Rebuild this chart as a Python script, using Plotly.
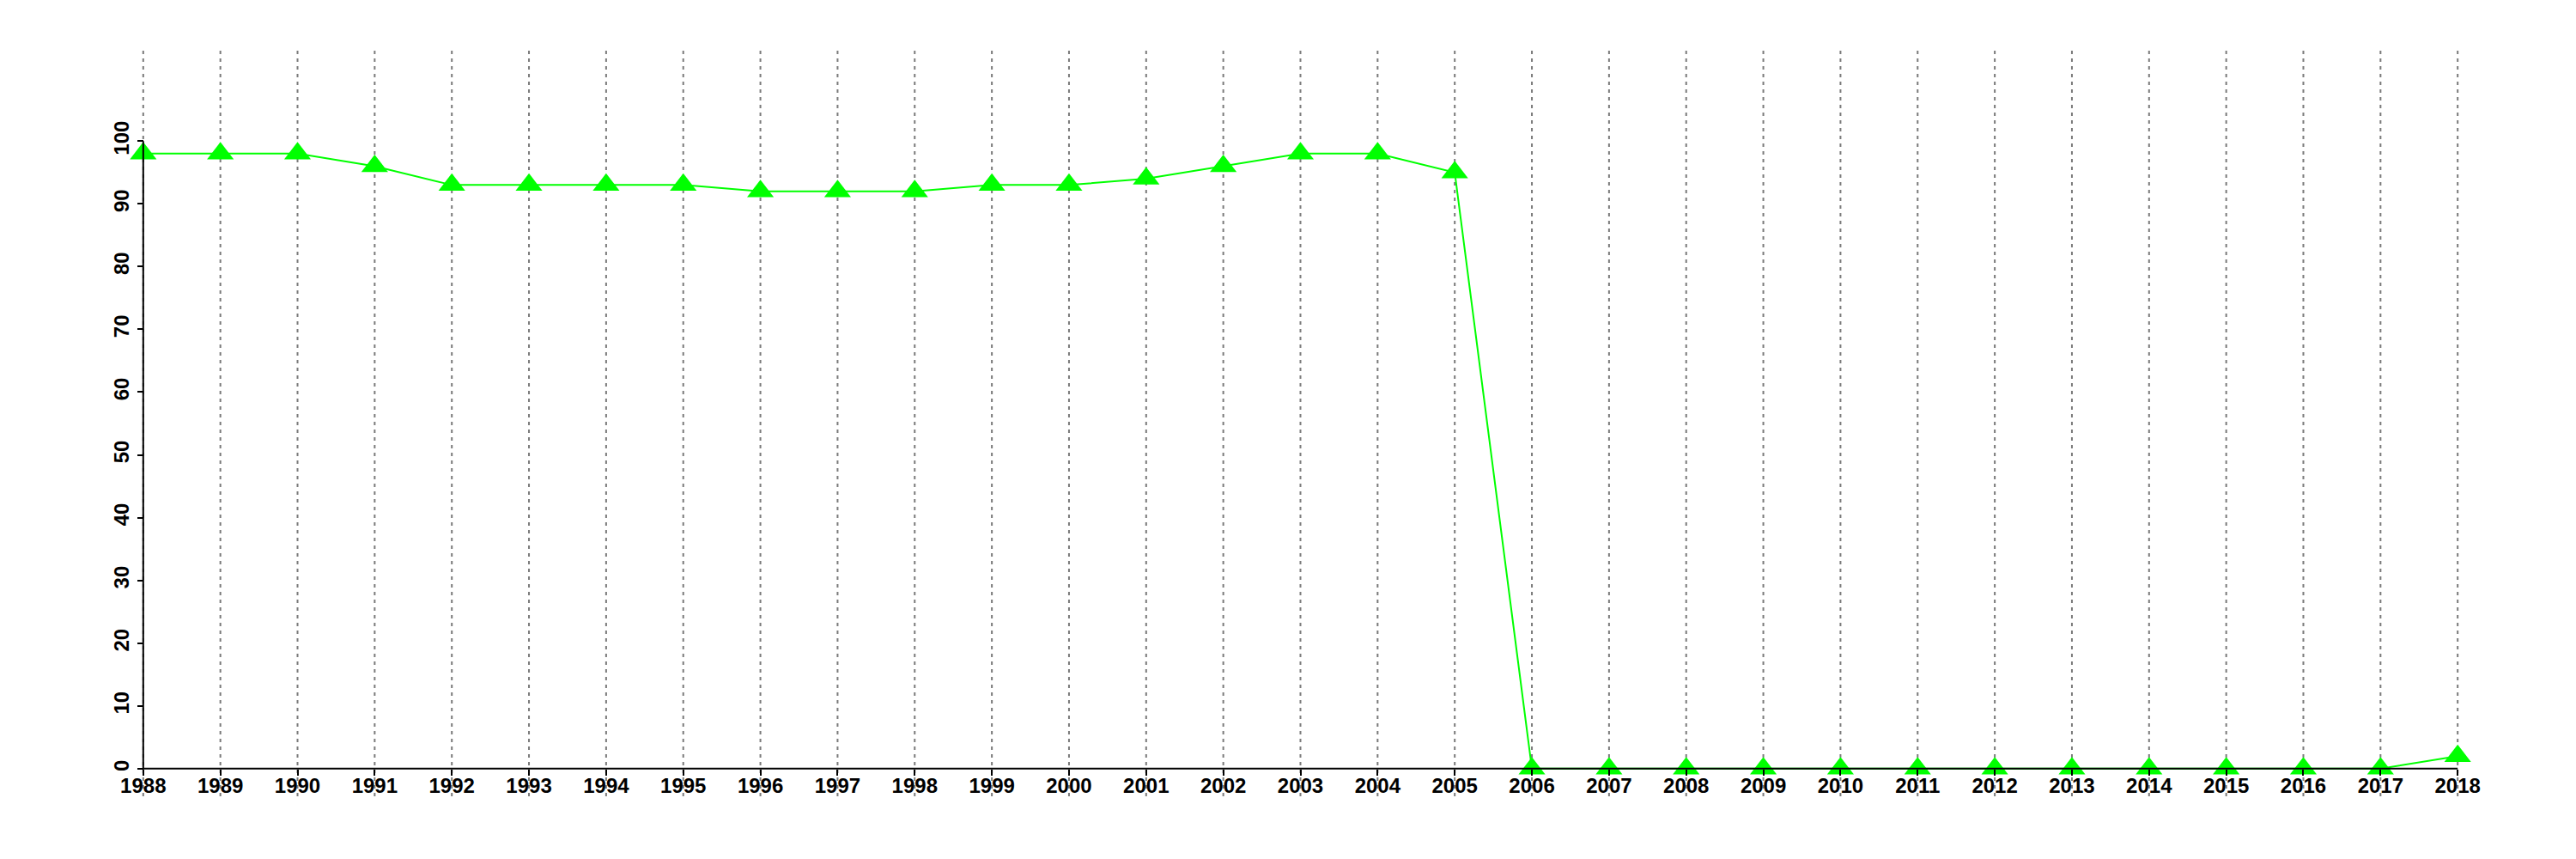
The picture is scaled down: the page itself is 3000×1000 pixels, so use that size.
import plotly.graph_objects as go

years = list(range(1988, 2019))
values = [98, 98, 98, 96, 93, 93, 93, 93, 92, 92, 92, 93, 93, 94, 96, 98, 98, 95,
          0, 0, 0, 0, 0, 0, 0, 0, 0, 0, 0, 0, 2]
y_ticks = list(range(0, 101, 10))

x_min, x_max = years[0], years[-1]
x_pad = (x_max - x_min) * 0.04
y_lo, y_hi = 0, 110
y_pad = (y_hi - y_lo) * 0.04
x_range = [x_min - x_pad, x_max + x_pad]
y_range = [y_lo - y_pad, y_hi + y_pad]

font = dict(family="Liberation Sans, Arial, sans-serif", size=24, color="black", weight="bold")

fig = go.Figure()

# dotted vertical grid lines spanning the full plot region (R abline style)
for yr in years:
    fig.add_shape(type="line", xref="x", yref="paper", x0=yr, x1=yr, y0=0, y1=1,
                  line=dict(color="#7a7a7a", width=2, dash="4px,5px"), layer="below")

fig.add_trace(go.Scatter(
    x=years, y=values, mode="lines+markers",
    line=dict(color="#00FF00", width=2),
    marker=dict(symbol="triangle-up", size=27, color="#00FF00"),
    showlegend=False, hoverinfo="skip",
))

# R-style axis lines spanning only the tick range
fig.add_shape(type="line", xref="x", yref="y", x0=x_min, x1=x_max, y0=0, y1=0,
              line=dict(color="black", width=2), layer="above")
fig.add_shape(type="line", xref="x", yref="y", x0=x_min, x1=x_min, y0=y_ticks[0], y1=y_ticks[-1],
              line=dict(color="black", width=2), layer="above")

fig.update_layout(
    width=3000, height=1000,
    margin=dict(l=51, r=38, t=51, b=81),
    paper_bgcolor="white", plot_bgcolor="white",
    font=font,
    xaxis=dict(
        range=x_range, tickmode="array", tickvals=years, ticktext=[str(y) for y in years],
        ticks="outside", ticklen=7, tickwidth=2, tickcolor="black",
        showgrid=False, zeroline=False, showline=False,
        anchor="free", position=(0 - y_range[0]) / (y_range[1] - y_range[0]),
        tickfont=font, ticklabelstandoff=-9,
    ),
    yaxis=dict(
        range=y_range, tickmode="array", tickvals=y_ticks, ticktext=[str(v) for v in y_ticks],
        ticks="outside", ticklen=7, tickwidth=2, tickcolor="black",
        showgrid=False, zeroline=False, showline=False, tickangle=-90,
        anchor="free", position=(x_min - x_range[0]) / (x_range[1] - x_range[0]),
        tickfont=font,
    ),
)

fig.write_html("out.html")
